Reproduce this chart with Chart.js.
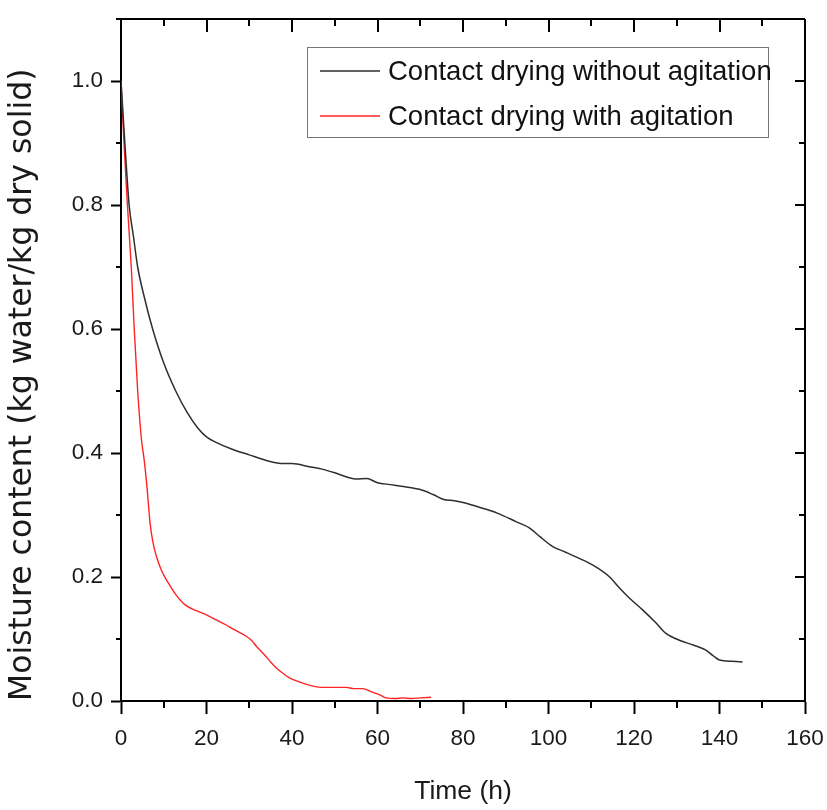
<!DOCTYPE html>
<html>
<head>
<meta charset="utf-8">
<script src="https://cdn.jsdelivr.net/npm/chart.js@4"></script>
<style>
  html, body { margin: 0; padding: 0; background: #fff; }
  #wrap { width: 827px; height: 810px; position: relative; }
</style>
</head>
<body>
<div id="wrap"><canvas id="c" width="827" height="810"></canvas></div>
<script>
// ---- data ----
const seriesLabels = ['Contact drying without agitation', 'Contact drying with agitation'];

const timeWithout = [0, 0.9, 1.9, 2.9, 3.9, 5.5, 7.4, 10, 12.8, 15.5, 18, 20, 22, 26, 30, 34, 38, 40, 44, 47, 50, 53, 55, 57.5, 60, 63, 66, 70, 73, 75.5, 78, 80, 84, 88, 92.5, 95.6, 98, 101, 104, 107.2, 110.4, 114.3, 116.5, 118.9, 122, 125, 127.5, 130.6, 134, 136.8, 138.5, 140, 143, 145.4];
const moistureWithout = [1.0, 0.9, 0.8, 0.75, 0.7, 0.65, 0.6, 0.545, 0.5, 0.465, 0.44, 0.426, 0.418, 0.406, 0.397, 0.388, 0.383, 0.383, 0.378, 0.374, 0.368, 0.361, 0.358, 0.359, 0.352, 0.349, 0.346, 0.341, 0.333, 0.325, 0.323, 0.320, 0.312, 0.303, 0.289, 0.279, 0.265, 0.249, 0.240, 0.230, 0.219, 0.200, 0.183, 0.166, 0.147, 0.127, 0.109, 0.098, 0.090, 0.082, 0.073, 0.066, 0.064, 0.063];

const timeWith = [0, 0.7, 1.5, 2.4, 3.1, 3.9, 4.8, 5.4, 6.0, 6.8, 7.5, 8.3, 9.5, 11.1, 13, 15, 17.5, 20, 22.5, 24.5, 26.5, 29.4, 30.5, 31.7, 33.5, 35, 36.4, 38, 39.5, 42, 44.9, 47, 49.6, 52.7, 54.5, 56.6, 58.5, 60.5, 62, 64, 66, 68, 70, 72.5];
const moistureWith = [1.0, 0.9, 0.8, 0.7, 0.6, 0.5, 0.421, 0.39, 0.351, 0.287, 0.255, 0.233, 0.21, 0.19, 0.17, 0.155, 0.146, 0.139, 0.13, 0.123, 0.115, 0.104, 0.098, 0.088, 0.075, 0.063, 0.053, 0.044, 0.037, 0.03, 0.024, 0.022, 0.022, 0.022, 0.02, 0.02, 0.015, 0.01, 0.005, 0.004, 0.005, 0.004, 0.005, 0.006];

const xTitle = 'Time (h)';
const yTitle = 'Moisture content (kg water/kg dry solid)';

// ---- styling ----
const SANS = "'Liberation Sans', Arial, sans-serif";
const WIDE = "'DejaVu Sans', 'Liberation Sans', Arial, sans-serif";

function pts(xs, ys) { return xs.map((t, i) => ({ x: t, y: ys[i] })); }

const framePlugin = {
  id: 'frame',
  afterDatasetsDraw(chart) {
    const { ctx, chartArea: { left, right, top, bottom }, scales: { x, y } } = chart;
    ctx.save();
    ctx.strokeStyle = '#000';
    ctx.lineWidth = 2;
    ctx.lineCap = 'butt';
    ctx.beginPath();
    ctx.moveTo(left, top); ctx.lineTo(right, top);
    ctx.moveTo(right, top); ctx.lineTo(right, bottom);
    for (let v = x.min; v <= x.max + 1e-9; v += 10) {
      const px = Math.round(x.getPixelForValue(v));
      const major = Math.abs(v % 20) < 1e-9;
      if (!major) { ctx.moveTo(px, bottom); ctx.lineTo(px, bottom + 7); }
      ctx.moveTo(px, top); ctx.lineTo(px, top + (major ? 13 : 7));
    }
    for (let k = 0; k <= 11; k++) {
      const v = k / 10;
      const py = Math.round(y.getPixelForValue(v));
      const major = k % 2 === 0 && k <= 10;
      if (!major) { ctx.moveTo(left, py); ctx.lineTo(left - 5, py); }
      ctx.moveTo(right, py); ctx.lineTo(right - (major ? 10 : 6), py);
    }
    ctx.stroke();
    ctx.restore();
  }
};

const legendPlugin = {
  id: 'insideLegend',
  afterDraw(chart) {
    const { ctx, chartArea: { right, top } } = chart;
    const bx1 = right - 37, bx0 = bx1 - 461, by0 = top + 28, by1 = by0 + 90;
    ctx.save();
    ctx.strokeStyle = '#777';
    ctx.lineWidth = 1;
    ctx.strokeRect(bx0 + 0.5, by0 + 0.5, bx1 - bx0, by1 - by0);
    chart.data.datasets.forEach((ds, i) => {
      const cy = by0 + 24 + i * 45;
      ctx.strokeStyle = ds.borderColor;
      ctx.lineWidth = 1.5;
      ctx.beginPath();
      ctx.moveTo(bx0 + 13, cy); ctx.lineTo(bx0 + 73, cy);
      ctx.stroke();
      ctx.fillStyle = '#111';
      ctx.font = "27.5px " + SANS;
      ctx.textBaseline = 'middle';
      ctx.textAlign = 'left';
      ctx.fillText(ds.label, bx0 + 81, cy + 1);
    });
    ctx.restore();
  }
};

new Chart(document.getElementById('c'), {
  type: 'line',
  data: {
    datasets: [
      { label: seriesLabels[0], data: pts(timeWithout, moistureWithout), borderColor: '#2e2e2e', borderWidth: 1.5, pointRadius: 0, cubicInterpolationMode: 'monotone', fill: false },
      { label: seriesLabels[1], data: pts(timeWith, moistureWith), borderColor: '#ff2424', borderWidth: 1.4, pointRadius: 0, cubicInterpolationMode: 'monotone', fill: false }
    ]
  },
  options: {
    responsive: false,
    animation: false,
    devicePixelRatio: 1,
    layout: { padding: { top: 19, right: 22, bottom: 0, left: 0 } },
    plugins: { legend: { display: false }, tooltip: { enabled: false } },
    scales: {
      x: {
        type: 'linear', min: 0, max: 160,
        ticks: { stepSize: 20, padding: 11, color: '#1a1a1a', font: { family: SANS, size: 22.5 }, maxRotation: 0 },
        grid: { display: true, drawOnChartArea: false, drawTicks: true, tickLength: 13, tickWidth: 2, tickColor: '#000' },
        border: { display: true, width: 2, color: '#000' },
        title: { display: true, text: xTitle, color: '#1a1a1a', font: { family: SANS, size: 26.5 }, padding: { top: 0, bottom: 2 } },
        afterFit(scale) { scale.height = 109; scale.paddingLeft = 0; scale.paddingRight = 0; }
      },
      y: {
        type: 'linear', min: 0, max: 1.1,
        ticks: { stepSize: 0.2, includeBounds: false, padding: 8, color: '#1a1a1a', font: { family: SANS, size: 22.5 }, callback: v => Number(v).toFixed(1) },
        grid: { display: true, drawOnChartArea: false, drawTicks: true, tickLength: 10, tickWidth: 2, tickColor: '#000' },
        border: { display: true, width: 2, color: '#000' },
        title: { display: true, text: yTitle, align: 'start', color: '#1a1a1a', font: { family: WIDE, size: 31.5 }, padding: { top: 4, bottom: 0 } },
        afterFit(scale) { scale.width = 121; scale.paddingTop = 0; scale.paddingBottom = 0; }
      }
    }
  },
  plugins: [framePlugin, legendPlugin]
});
</script>
</body>
</html>
